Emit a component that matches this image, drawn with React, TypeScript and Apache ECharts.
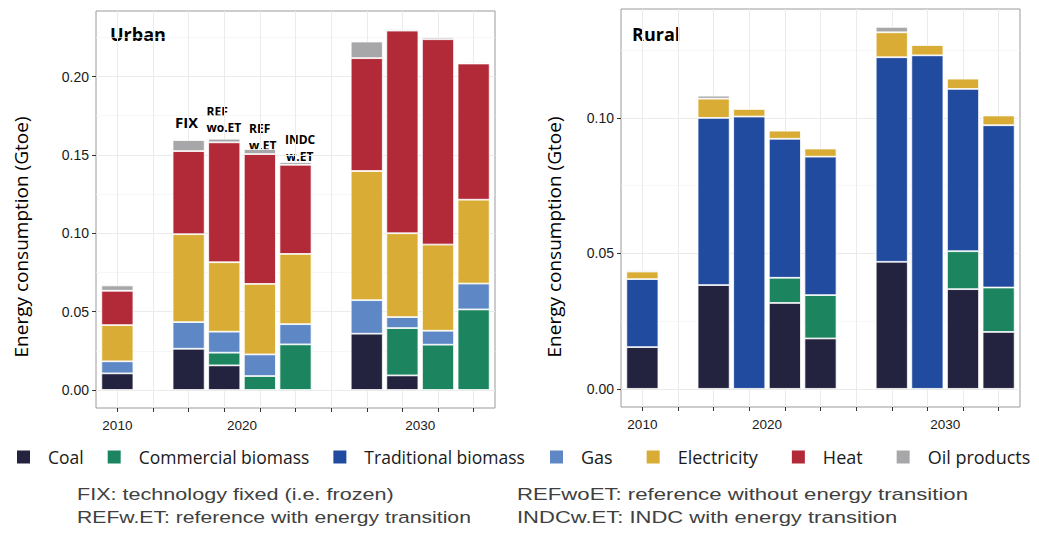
import React, { useEffect, useRef } from 'react';
import * as echarts from 'echarts';

// Discrete x slots: 1 = 2010, 3-6 = 2020 (FIX, REFwoET, REFw.ET, INDCw.ET), 8-11 = 2030 (same four)
const BAR_POS = [1, 3, 4, 5, 6, 8, 9, 10, 11];
const X_SLOTS = [1, 2, 3, 4, 5, 6, 7, 8, 9, 10, 11];
const SLOT_NAMES = ['2010', 'gap1', '2020 FIX', '2020 REFwoET', '2020 REFw.ET', '2020 INDCw.ET', 'gap2', '2030 FIX', '2030 REFwoET', '2030 REFw.ET', '2030 INDCw.ET'];
const YEAR_LABELS = ['2010', '2020', '2030'];
const YEAR_LABEL_POS = [1, 4.5, 9.5];

const URBAN_Y_TICKS = [0, 0.05, 0.1, 0.15, 0.2];
const URBAN_Y_MINOR = [0.025, 0.075, 0.125, 0.175, 0.225];
const RURAL_Y_TICKS = [0, 0.05, 0.1];
const RURAL_Y_MINOR = [0.025, 0.075, 0.125];

const ENERGY = ['Coal', 'Commercial biomass', 'Traditional biomass', 'Gas', 'Electricity', 'Heat', 'Oil products'];
const COLORS = ['#232340', '#1c8560', '#214b9f', '#5d88c5', '#d9ad35', '#b22937', '#a7a7a9'];

// Urban (Gtoe)
const urbanCoal = [0.0106, 0.0263, 0.0157, 0, 0, 0.0359, 0.0093, 0, 0];
const urbanCommBio = [0, 0, 0.0081, 0.0089, 0.0291, 0, 0.0302, 0.0289, 0.0514];
const urbanTradBio = [0, 0, 0, 0, 0, 0, 0, 0, 0];
const urbanGas = [0.0077, 0.017, 0.0134, 0.0138, 0.0129, 0.0214, 0.007, 0.0089, 0.0165];
const urbanElec = [0.0231, 0.0561, 0.0443, 0.045, 0.0448, 0.0824, 0.0535, 0.055, 0.0535];
const urbanHeat = [0.0219, 0.053, 0.0765, 0.0828, 0.0569, 0.072, 0.1293, 0.131, 0.0869];
const urbanOil = [0.0034, 0.007, 0.0023, 0.0032, 0.0017, 0.0106, 0.0008, 0.0013, 0.0008];

// Rural (Gtoe)
const ruralCoal = [0.0154, 0.0383, 0, 0.0317, 0.0186, 0.0469, 0, 0.0368, 0.021];
const ruralCommBio = [0, 0, 0, 0.0093, 0.016, 0, 0, 0.014, 0.0164];
const ruralTradBio = [0.0251, 0.0617, 0.1005, 0.0513, 0.0511, 0.0755, 0.1231, 0.0599, 0.0599];
const ruralGas = [0, 0, 0, 0, 0, 0, 0, 0, 0];
const ruralElec = [0.0028, 0.0071, 0.0028, 0.003, 0.003, 0.0092, 0.0038, 0.0038, 0.0036];
const ruralHeat = [0, 0, 0, 0, 0, 0, 0, 0, 0];
const ruralOil = [0.0004, 0.0011, 0, 0, 0, 0.002, 0, 0, 0];

const URBAN = [urbanCoal, urbanCommBio, urbanTradBio, urbanGas, urbanElec, urbanHeat, urbanOil];
const RURAL = [ruralCoal, ruralCommBio, ruralTradBio, ruralGas, ruralElec, ruralHeat, ruralOil];

const Y_TITLE = 'Energy consumption (Gtoe)';
const FOOTNOTES = [
  'FIX: technology fixed (i.e. frozen)',
  'REFw.ET: reference with energy transition',
  'REFwoET: reference without energy transition',
  'INDCw.ET: INDC with energy transition',
];

const TICK_FONT = 'Liberation Sans';
const LABEL_FONT = 'Open Sans';

// panel geometry (pixels)
const PANELS = [
  { left: 96, top: 11, width: 399, height: 397, ymin: -0.0115, ymax: 0.2418 },
  { left: 621, top: 9, width: 399, height: 398, ymin: -0.0067, ymax: 0.1402 },
];

function yearLabel(v: number): string {
  const i = YEAR_LABEL_POS.findIndex((p) => Math.abs(p - v) < 1e-6);
  return i >= 0 ? YEAR_LABELS[i] : '';
}

export default function App() {
  const ref = useRef<HTMLDivElement>(null);
  useEffect(() => {
    if (!ref.current) return;
    const chart = echarts.init(ref.current, null, { renderer: 'svg' });

    const grids: any[] = [];
    const xAxes: any[] = [];
    const yAxes: any[] = [];
    // panel grids 0,1 (frame, grid lines, ticks, labels)
    PANELS.forEach((p) => {
      grids.push({ left: p.left, top: p.top, width: p.width, height: p.height, show: true, borderColor: '#9a9a9a', borderWidth: 1, backgroundColor: 'transparent', outerBoundsMode: 'none', containLabel: false });
    });
    // bar grids 2,3 (discrete band axis aligned with slots 1..11 over range 0.4..11.6)
    PANELS.forEach((p) => {
      const unit = p.width / 11.2;
      grids.push({ left: p.left + 0.1 * unit, top: p.top, width: 11 * unit, height: p.height, show: false, outerBoundsMode: 'none', containLabel: false });
    });

    PANELS.forEach((p, gi) => {
      xAxes.push({
        type: 'value',
        gridIndex: gi,
        min: 0.4,
        max: 11.6,
        axisLine: { show: false, onZero: false },
        axisTick: { show: true, customValues: X_SLOTS, length: 4, lineStyle: { color: '#333', width: 1 } },
        splitLine: { show: true, lineStyle: { color: '#ebebeb', width: 1 } },
        axisLabel: {
          customValues: YEAR_LABEL_POS,
          formatter: (v: number) => yearLabel(v),
          fontFamily: TICK_FONT,
          fontSize: 13.5,
          color: '#1a1a1a',
          margin: 10,
        },
      });
    });
    PANELS.forEach((p, gi) => {
      xAxes.push({ type: 'category', gridIndex: 2 + gi, data: SLOT_NAMES, show: false, boundaryGap: true });
    });

    const ticks = [URBAN_Y_TICKS, RURAL_Y_TICKS];
    const minors = [URBAN_Y_MINOR, RURAL_Y_MINOR];
    PANELS.forEach((p, gi) => {
      yAxes.push({
        type: 'value',
        gridIndex: gi,
        position: 'left',
        min: p.ymin,
        max: p.ymax,
        axisLine: { show: false, onZero: false },
        axisTick: { show: true, customValues: ticks[gi], length: 4, lineStyle: { color: '#333', width: 1 } },
        splitLine: { show: true, lineStyle: { color: '#ebebeb', width: 1 } },
        axisLabel: {
          customValues: ticks[gi],
          formatter: (v: number) => v.toFixed(2),
          fontFamily: TICK_FONT,
          fontSize: 14,
          color: '#1a1a1a',
          margin: 7,
        },
      });
      yAxes.push({
        type: 'value',
        gridIndex: gi,
        position: 'left',
        min: p.ymin,
        max: p.ymax,
        axisLine: { show: false, onZero: false },
        axisTick: { show: false, customValues: minors[gi] },
        axisLabel: { show: false },
        splitLine: { show: true, lineStyle: { color: '#f4f4f4', width: 0.7 } },
      });
    });
    PANELS.forEach((p, gi) => {
      yAxes.push({ type: 'value', gridIndex: 2 + gi, min: p.ymin, max: p.ymax, show: false, splitLine: { show: false } });
    });

    const tables = [URBAN, RURAL];
    const series: any[] = [];
    tables.forEach((table, gi) => {
      ENERGY.forEach((name, k) => {
        series.push({
          type: 'bar',
          name,
          xAxisIndex: 2 + gi,
          yAxisIndex: 4 + gi,
          stack: 'panel' + gi,
          barWidth: '90%',
          data: X_SLOTS.map((s) => {
            const i = BAR_POS.indexOf(s);
            return i >= 0 && table[k][i] > 0 ? table[k][i] : null;
          }),
          itemStyle: { color: COLORS[k], borderColor: '#ffffff', borderWidth: 0.8 },
          emphasis: { disabled: true },
        });
      });
    });

    const legendBase = {
      top: 448,
      orient: 'horizontal',
      icon: 'rect',
      itemWidth: 15,
      itemHeight: 15,
      padding: 0,
      selectedMode: false,
    };
    const legendText = (size: number) => ({ fontFamily: LABEL_FONT, fontSize: size, color: '#1a1a1a', padding: [0, 0, 0, 12] });

    const noteStyle = { fontFamily: TICK_FONT, fontSize: 17, fill: '#404040', verticalAlign: 'middle', align: 'left' };
    const annStyle = { fontFamily: LABEL_FONT, fontWeight: 'bold', fill: '#000', fontSize: 12, lineHeight: 12, align: 'left', verticalAlign: 'middle' };
    const titleStyle = { fontFamily: LABEL_FONT, fontWeight: 'bold', fontSize: 18, fill: '#000', verticalAlign: 'middle' };
    const yTitleStyle = { text: Y_TITLE, fontFamily: LABEL_FONT, fontSize: 19, fill: '#000', align: 'center', verticalAlign: 'middle' };

    const option: any = {
      animation: false,
      backgroundColor: '#ffffff',
      grid: grids,
      xAxis: xAxes,
      yAxis: yAxes,
      legend: [
        { ...legendBase, left: 15, itemGap: 22, data: ENERGY.slice(0, 3), textStyle: legendText(17.5) },
        { ...legendBase, left: 548, itemGap: 32, data: ENERGY.slice(3), textStyle: legendText(18) },
      ],
      tooltip: { show: false },
      series,
      graphic: [
        { type: 'text', x: 20.5, y: 237, rotation: Math.PI / 2, style: yTitleStyle },
        { type: 'text', x: 553.5, y: 237, rotation: Math.PI / 2, style: yTitleStyle },
        { type: 'text', x: 110, y: 34, style: { ...titleStyle, text: 'Urban' } },
        { type: 'text', x: 632, y: 34, style: { ...titleStyle, text: 'Rural' } },
        { type: 'text', x: 186.5, y: 122, style: { ...annStyle, text: 'FIX', fontSize: 15, lineHeight: 15, align: 'center' } },
        { type: 'text', x: 206.5, y: 111, style: { ...annStyle, text: 'REF' } },
        { type: 'text', x: 206.5, y: 127.6, style: { ...annStyle, text: 'wo.ET' } },
        { type: 'text', x: 249, y: 128.4, style: { ...annStyle, text: 'REF' } },
        { type: 'text', x: 249, y: 145, style: { ...annStyle, text: 'w.ET' } },
        { type: 'text', x: 285, y: 139.8, style: { ...annStyle, text: 'INDC' } },
        { type: 'text', x: 286, y: 156.4, style: { ...annStyle, text: 'w.ET' } },
        { type: 'text', x: 77, y: 494, scaleX: 1.27, style: { ...noteStyle, text: FOOTNOTES[0] } },
        { type: 'text', x: 77, y: 517, scaleX: 1.245, style: { ...noteStyle, text: FOOTNOTES[1] } },
        { type: 'text', x: 517, y: 494, scaleX: 1.305, style: { ...noteStyle, text: FOOTNOTES[2] } },
        { type: 'text', x: 517, y: 517, scaleX: 1.295, style: { ...noteStyle, text: FOOTNOTES[3] } },
      ],
    };
    chart.setOption(option);
    return () => chart.dispose();
  }, []);
  return (
    <div
      ref={ref}
      style={{ position: 'absolute', left: 0, top: 0, width: 1039, height: 536, background: '#fff' }}
    />
  );
}
